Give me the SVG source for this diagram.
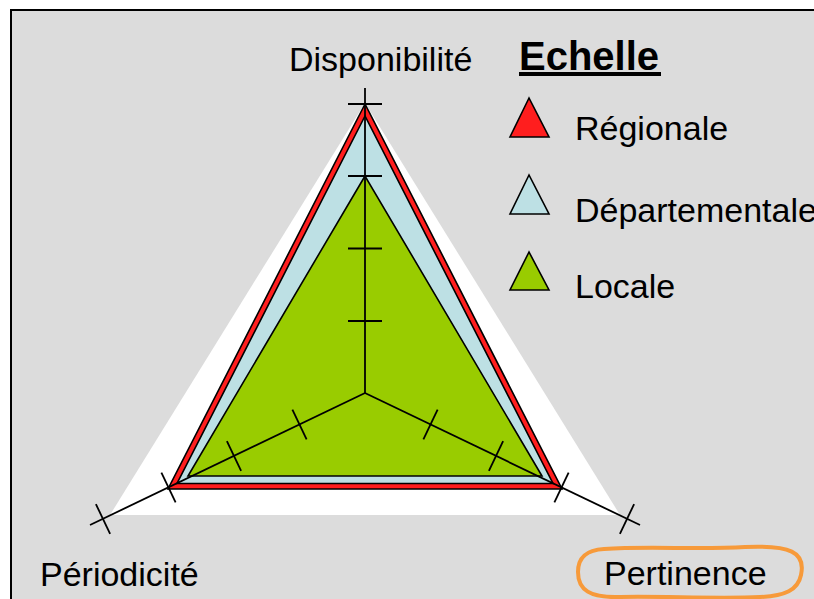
<svg xmlns="http://www.w3.org/2000/svg" width="814" height="599" viewBox="0 0 814 599">
  <style>
    .lbl { font-family: "Liberation Sans", Arial, sans-serif; font-size: 34px; fill: #000; }
    .ttl { font-family: "Liberation Sans", Arial, sans-serif; font-size: 40px; font-weight: bold; fill: #000; }
    .edge { stroke: #000; stroke-width: 1.6; stroke-linejoin: miter; }
    .axis { stroke: #000; stroke-width: 1.8; fill: none; }
  </style>

  <!-- page background and chart frame -->
  <rect x="0" y="0" width="814" height="599" fill="#ffffff"/>
  <rect x="11" y="10" width="820" height="610" fill="#dcdcdc" stroke="#000" stroke-width="2"/>

  <!-- plot area -->
  <polygon points="365,103 110,515 620,515" fill="#ffffff"/>

  <!-- data series -->
  <g id="series">
    <polygon id="regionale" class="edge" points="365,104 168,489 562,489" fill="#ff1e1e"/>
    <polygon id="departementale" class="edge" points="365,116 177,483.5 553,483.5" fill="#bde0e4"/>
    <polygon id="locale" class="edge" points="365,176 188,476 542,476" fill="#99cc00"/>
  </g>

  <!-- axes with graduation ticks -->
  <g id="axes" class="axis">
    <line x1="365" y1="393" x2="365" y2="88"/>
    <line x1="365" y1="393" x2="90" y2="525"/>
    <line x1="365" y1="393" x2="640" y2="525"/>
    <!-- vertical axis ticks -->
    <line x1="348" y1="321" x2="382" y2="321"/>
    <line x1="348" y1="248.5" x2="382" y2="248.5"/>
    <line x1="348" y1="176" x2="382" y2="176"/>
    <line x1="348" y1="104" x2="382" y2="104"/>
    <!-- left axis ticks -->
    <line x1="292.4" y1="409.6" x2="306.6" y2="439.4"/>
    <line x1="226.9" y1="441.1" x2="241.1" y2="470.9"/>
    <line x1="161.4" y1="472.6" x2="175.6" y2="502.4"/>
    <line x1="95.9" y1="504.1" x2="110.1" y2="533.9"/>
    <!-- right axis ticks -->
    <line x1="437.6" y1="409.6" x2="423.4" y2="439.4"/>
    <line x1="503.1" y1="441.1" x2="488.9" y2="470.9"/>
    <line x1="568.6" y1="472.6" x2="554.4" y2="502.4"/>
    <line x1="634.1" y1="504.1" x2="619.9" y2="533.9"/>
  </g>

  <!-- axis titles -->
  <g id="axis-labels">
    <text class="lbl" x="289" y="71">Disponibilité</text>
    <text class="lbl" x="40" y="586">Périodicité</text>
    <text class="lbl" x="604" y="585">Pertinence</text>
  </g>

  <!-- hand-drawn highlight -->
  <path id="highlight" d="M 604,549 C 650,546 700,550 745,547 C 790,545 806,552 801,575 C 798,590 785,596 760,597 C 720,599 660,596 620,597 C 590,598 578,590 578,572 C 578,556 588,550 604,549 Z"
        fill="none" stroke="#f79a3a" stroke-width="4" stroke-linecap="round"/>

  <!-- legend -->
  <g id="legend">
    <text class="ttl" x="519" y="70">Echelle</text>
    <rect x="519" y="72" width="142" height="4" fill="#000"/>
    <g id="legend-regionale">
      <polygon class="edge" points="529,98 510,137 549,137" fill="#ff1e1e"/>
      <text class="lbl" x="575" y="140">Régionale</text>
    </g>
    <g id="legend-departementale">
      <polygon class="edge" points="529,175 510,214 549,214" fill="#bde0e4"/>
      <text class="lbl" x="575" y="222">Départementale</text>
    </g>
    <g id="legend-locale">
      <polygon class="edge" points="529,252 510,290 549,290" fill="#99cc00"/>
      <text class="lbl" x="575" y="298">Locale</text>
    </g>
  </g>
</svg>
